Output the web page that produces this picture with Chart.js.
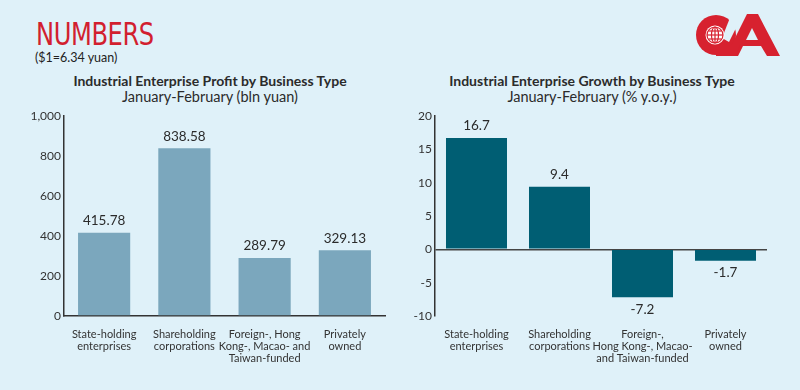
<!DOCTYPE html>
<html lang="en">
<head>
<meta charset="UTF-8">
<title>Industrial Enterprise Profit and Growth by Business Type</title>
<script src="https://cdn.jsdelivr.net/npm/chart.js"></script>
<style>
    html, body { margin: 0; padding: 0; }
    body {
        width: 800px; height: 390px; overflow: hidden; position: relative;
        background: #dff1f9; font-family: Lato, "Open Sans", sans-serif; color: #333;
    }
    .abs { position: absolute; }
    .headline {
        left: 36px; top: 18px; font-family: "Liberation Sans Narrow", "DejaVu Sans Condensed", sans-serif;
        font-size: 32px; color: #d21f2f; letter-spacing: -0.5px; transform-origin: left top;
        transform: scaleX(0.84); line-height: 1;
    }
    .rate { left: 35px; top: 50px; font-size: 12.5px; color: #222; }
    .title { font-size: 14px; font-weight: bold; text-align: center; width: 360px; color: #2b2b2b; }
    .sub { font-size: 14.5px; text-align: center; width: 360px; color: #2b2b2b; }
    .box { top: 105px; width: 400px; height: 285px; }
</style>
</head>
<body>
    <div class="abs headline">NUMBERS</div>
    <div class="abs rate">($1=6.34 yuan)</div>

    <!-- logo -->
    <svg class="abs" style="left:690px;top:10px" width="92" height="52" viewBox="690 10 92 52">
        <circle cx="716" cy="35" r="20" fill="#d7212f"/>
        <polygon points="726,56 747,14 758,14 780,56 767,56 761,46 743,46 738,56" fill="#d7212f"/>
        <polygon points="733,10 745,10 729,42 722,38" fill="#dff1f9"/>
        <polygon points="716,45 740,45 736,56 716,56" fill="#d7212f"/>
        <polygon points="752,28 758,40 746,40" fill="#dff1f9"/>
        <circle cx="715" cy="35" r="9.5" fill="#fff"/>
        <g stroke="#d7212f" stroke-width="1.2" fill="none">
            <circle cx="715" cy="35" r="8"/>
            <ellipse cx="715" cy="35" rx="3.5" ry="8"/>
            <line x1="715" y1="27" x2="715" y2="43"/>
            <line x1="707" y1="35" x2="723" y2="35"/>
            <line x1="708.5" y1="31" x2="721.5" y2="31"/>
            <line x1="708.5" y1="39" x2="721.5" y2="39"/>
        </g>
    </svg>

    <div class="abs title" style="left:30px;top:72px">Industrial Enterprise Profit by Business Type</div>
    <div class="abs sub" style="left:30px;top:88px">January-February (bln yuan)</div>
    <div class="abs title" style="left:412px;top:72px">Industrial Enterprise Growth by Business Type</div>
    <div class="abs sub" style="left:412px;top:88px">January-February (% y.o.y.)</div>

    <div class="abs box" style="left:0px"><canvas id="profitChart"></canvas></div>
    <div class="abs box" style="left:400px"><canvas id="growthChart"></canvas></div>

<script>
    // data
    const profitCategories = [
        ['State-holding', 'enterprises'],
        ['Shareholding', 'corporations'],
        ['Foreign-, Hong', 'Kong-, Macao- and', 'Taiwan-funded'],
        ['Privately', 'owned']
    ];
    const profitValues = [415.78, 838.58, 289.79, 329.13];

    const growthCategories = [
        ['State-holding', 'enterprises'],
        ['Shareholding', 'corporations'],
        ['Foreign-,', 'Hong Kong-, Macao-', 'and Taiwan-funded'],
        ['Privately', 'owned']
    ];
    const growthValues = [16.7, 9.4, -7.2, -1.7];

    Chart.defaults.font.family = 'Lato, "Open Sans", sans-serif';
    Chart.defaults.color = '#333';

    // numbers above / below bars
    const valueLabels = {
        id: 'valueLabels',
        afterDatasetsDraw(chart, args, opts) {
            const ctx = chart.ctx;
            const meta = chart.getDatasetMeta(0);
            const data = chart.data.datasets[0].data;
            ctx.save();
            ctx.font = '13.5px Lato, "Open Sans", sans-serif';
            ctx.fillStyle = '#2b2b2b';
            ctx.textAlign = 'center';
            ctx.textBaseline = 'middle';
            meta.data.forEach((bar, i) => {
                const v = data[i];
                const y = v >= 0 ? bar.y - 12 : bar.y + 12;
                ctx.fillText(v.toFixed(opts.digits), bar.x, y);
            });
            ctx.restore();
        }
    };

    function makeChart(id, labels, values, color, barPct, yOpts, pad, yWidth, zeroLine) {
        return new Chart(document.getElementById(id), {
            type: 'bar',
            data: {
                labels: labels,
                datasets: [{ data: values, backgroundColor: color, barPercentage: barPct, categoryPercentage: 1 }]
            },
            plugins: [valueLabels],
            options: {
                responsive: true,
                maintainAspectRatio: false,
                animation: false,
                layout: { padding: pad },
                plugins: {
                    legend: { display: false },
                    tooltip: { enabled: false },
                    valueLabels: { digits: yOpts.digits }
                },
                scales: {
                    x: {
                        grid: { display: false },
                        border: { display: !zeroLine, color: '#333', width: 1.5 },
                        ticks: { font: { size: 11, lineHeight: 1.1 }, color: '#333', padding: 4, maxRotation: 0, autoSkip: false },
                        afterFit: s => { s.height = 74; }
                    },
                    y: {
                        min: yOpts.min,
                        max: yOpts.max,
                        ticks: { stepSize: yOpts.step, font: { size: 12 }, color: '#333', padding: 3 },
                        grid: {
                            drawTicks: false,
                            lineWidth: 1.5,
                            color: c => (zeroLine && c.tick && c.tick.value === 0) ? '#444' : 'rgba(0,0,0,0)'
                        },
                        border: { display: true, color: '#333', width: 1.5 },
                        afterFit: s => { s.width = yWidth; }
                    }
                }
            }
        });
    }

    makeChart('profitChart', profitCategories, profitValues, '#7ba7bd', 0.65,
        { min: 0, max: 1000, step: 200, digits: 2 },
        { left: 0, right: 15, top: 11, bottom: 0 }, 64, false);

    makeChart('growthChart', growthCategories, growthValues, '#005e73', 0.735,
        { min: -10, max: 20, step: 5, digits: 1 },
        { left: 0, right: 33, top: 11, bottom: 0 }, 35, true);
</script>
</body>
</html>
